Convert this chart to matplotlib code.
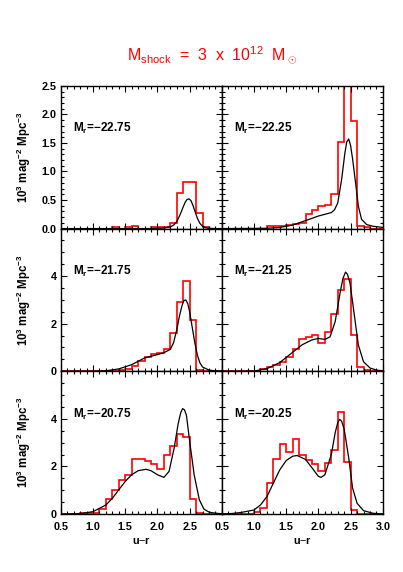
import numpy as np
import matplotlib
matplotlib.use('Agg')
import matplotlib.pyplot as plt
from matplotlib.ticker import MultipleLocator, FixedLocator

plt.rcParams['font.family'] = 'Liberation Sans'
plt.rcParams['mathtext.fontset'] = 'custom'
plt.rcParams['mathtext.rm'] = 'Liberation Sans'
plt.rcParams['mathtext.bf'] = 'Liberation Sans:bold'
plt.rcParams['mathtext.it'] = 'Liberation Sans:italic'

# u-r bins, 0.5 -> 3.0 in steps of 0.1
bin_edges = np.linspace(0.5, 3.0, 26)

mag_bins = ['-22.75', '-22.25', '-21.75', '-21.25', '-20.75', '-20.25']

# red histograms (one value per 0.1 bin)
hist_2275 = [0, 0, 0, 0, 0, 0, 0, 0, 0.03, 0, 0.03, 0.05, 0, 0, 0.02, 0.02, 0.02, 0.09, 0.62, 0.81, 0.81, 0.28, 0.03, 0, 0]
hist_2225 = [0, 0, 0, 0, 0, 0, 0, 0.04, 0.04, 0.04, 0.06, 0.08, 0.10, 0.26, 0.32, 0.39, 0.41, 0.61, 1.52, 3.0, 1.88, 0.05, 0.02, 0, 0]
hist_2175 = [0, 0, 0, 0, 0, 0, 0, 0.02, 0.03, 0.04, 0.08, 0.22, 0.42, 0.59, 0.72, 0.78, 0.92, 1.60, 2.91, 3.79, 2.16, 0.05, 0.01, 0, 0]
hist_2125 = [0, 0, 0, 0, 0, 0.03, 0.08, 0.20, 0.28, 0.40, 0.58, 0.93, 1.36, 1.44, 1.53, 1.17, 1.64, 2.40, 3.40, 3.86, 1.53, 0.18, 0.04, 0, 0]
hist_2075 = [0, 0, 0, 0.04, 0.04, 0.04, 0.21, 0.62, 1.02, 1.44, 1.65, 2.32, 2.32, 2.22, 2.10, 1.90, 2.50, 2.85, 3.38, 3.23, 0.62, 0.03, 0, 0, 0]
hist_2025 = [0, 0, 0, 0, 0, 0.10, 0.24, 1.30, 2.32, 2.95, 2.61, 3.14, 2.50, 2.25, 2.10, 1.80, 2.13, 2.67, 4.29, 2.19, 0.17, 0, 0, 0, 0]

# black model curves
fit_x_2275 = [0.5, 1.9, 2.1, 2.2, 2.25, 2.3, 2.35, 2.4, 2.43, 2.46, 2.49, 2.52, 2.55, 2.58, 2.62, 2.66, 2.7, 2.75, 2.8, 2.9, 3.0]
fit_y_2275 = [0, 0, 0.01, 0.03, 0.06, 0.12, 0.24, 0.38, 0.46, 0.51, 0.52, 0.49, 0.41, 0.31, 0.18, 0.09, 0.04, 0.015, 0.005, 0, 0]

fit_x_2225 = [0.5, 1.2, 1.4, 1.6, 1.8, 2.0, 2.1, 2.2, 2.25, 2.3, 2.36, 2.41, 2.44, 2.47, 2.5, 2.53, 2.57, 2.62, 2.67, 2.75, 2.85, 3.0]
fit_y_2225 = [0, 0.005, 0.02, 0.06, 0.14, 0.22, 0.25, 0.28, 0.33, 0.45, 0.86, 1.32, 1.52, 1.57, 1.45, 1.22, 0.86, 0.39, 0.16, 0.07, 0.04, 0.02]

fit_x_2175 = [0.5, 1.0, 1.2, 1.4, 1.6, 1.8, 2.0, 2.1, 2.2, 2.25, 2.3, 2.34, 2.38, 2.41, 2.44, 2.47, 2.5, 2.54, 2.58, 2.62, 2.66, 2.7, 2.8, 2.9, 3.0]
fit_y_2175 = [0, 0, 0.02, 0.1, 0.28, 0.56, 0.70, 0.78, 0.92, 1.2, 1.75, 2.3, 2.75, 2.97, 3.0, 2.85, 2.5, 1.85, 1.2, 0.68, 0.35, 0.18, 0.05, 0.02, 0.005]

fit_x_2125 = [0.5, 0.8, 1.0, 1.2, 1.4, 1.6, 1.75, 1.9, 2.0, 2.1, 2.18, 2.26, 2.34, 2.38, 2.42, 2.45, 2.49, 2.55, 2.62, 2.7, 2.8, 2.9, 3.0]
fit_y_2125 = [0, 0, 0.01, 0.11, 0.37, 0.80, 1.12, 1.32, 1.38, 1.34, 1.45, 2.09, 3.36, 3.9, 4.17, 4.08, 3.71, 2.51, 1.1, 0.4, 0.14, 0.05, 0.02]

fit_x_2075 = [0.5, 0.8, 1.0, 1.2, 1.3, 1.4, 1.5, 1.6, 1.7, 1.82, 1.9, 2.0, 2.1, 2.18, 2.26, 2.32, 2.36, 2.39, 2.42, 2.45, 2.5, 2.57, 2.65, 2.72, 2.8, 2.88, 3.0]
fit_y_2075 = [0, 0.01, 0.1, 0.38, 0.66, 1.02, 1.37, 1.65, 1.82, 1.88, 1.82, 1.65, 1.54, 1.79, 2.78, 3.77, 4.25, 4.43, 4.38, 4.15, 3.06, 1.65, 0.6, 0.21, 0.08, 0.04, 0.01]

fit_x_2025 = [0.5, 0.65, 0.79, 1.0, 1.1, 1.2, 1.3, 1.4, 1.5, 1.6, 1.67, 1.8, 1.9, 2.0, 2.04, 2.1, 2.2, 2.26, 2.3, 2.33, 2.36, 2.4, 2.47, 2.53, 2.6, 2.7, 2.85, 3.0]
fit_y_2025 = [0, 0.02, 0.06, 0.17, 0.38, 0.73, 1.3, 1.86, 2.25, 2.43, 2.46, 2.29, 1.94, 1.58, 1.54, 1.65, 2.5, 3.42, 3.85, 3.98, 3.9, 3.56, 2.36, 1.09, 0.45, 0.14, 0.03, 0]

hists = [hist_2275, hist_2225, hist_2175, hist_2125, hist_2075, hist_2025]
fits_x = [fit_x_2275, fit_x_2225, fit_x_2175, fit_x_2125, fit_x_2075, fit_x_2025]
fits_y = [fit_y_2275, fit_y_2225, fit_y_2175, fit_y_2125, fit_y_2075, fit_y_2025]

xticks = [0.5, 1.0, 1.5, 2.0, 2.5, 3.0]

fig = plt.figure(figsize=(4.03, 5.72), dpi=100)

lefts = [0.151, 0.5505]
bottoms = [0.6004, 0.3509, 0.1014]
w, h = 0.3995, 0.2495

for i in range(6):
    row, col = i // 2, i % 2
    ax = fig.add_axes([lefts[col], bottoms[row], w, h])

    ax.stairs(hists[i], bin_edges, color='red', lw=1.2)
    ax.plot(fits_x[i], fits_y[i], 'k-', lw=0.9)

    ax.set_xlim(0.5, 3.0)
    if row == 0:
        ax.set_ylim(0, 2.5)
        ax.yaxis.set_major_locator(MultipleLocator(0.5))
        ax.yaxis.set_minor_locator(MultipleLocator(0.1))
        ax.yaxis.set_major_formatter(matplotlib.ticker.FormatStrFormatter('%.1f'))
    else:
        ax.set_ylim(0, 6)
        ax.yaxis.set_major_locator(FixedLocator([0, 2, 4]))
        ax.yaxis.set_minor_locator(MultipleLocator(0.5))

    ax.set_xticks(xticks)
    ax.xaxis.set_minor_locator(MultipleLocator(0.1))
    if row == 2:
        labs = ['%.1f' % t for t in xticks]
        if col == 0:
            labs[-1] = ''
        ax.set_xticklabels(labs)
        ax.set_xlabel('u$-$r', fontsize=7.8, fontweight='bold')
        ax.xaxis.set_label_coords(0.5, -0.15)
    else:
        ax.set_xticklabels([])

    if col == 1:
        ax.set_yticklabels([])
    else:
        ax.set_ylabel(r'10$^\mathbf{3}$ mag$^\mathbf{-2}$ Mpc$^\mathbf{-3}$', fontsize=8.3, fontweight='bold')
        ax.yaxis.set_label_coords(-0.175, 0.5)

    ax.tick_params(which='both', direction='in', top=True, right=True, width=0.8,
                   labelsize=7.8)
    ax.tick_params(which='major', length=4)
    ax.tick_params(which='minor', length=2)
    ax.tick_params(axis='x', pad=6)
    ax.tick_params(axis='y', pad=3)
    for lab in ax.get_xticklabels() + ax.get_yticklabels():
        lab.set_fontweight('bold')
    for sp in ax.spines.values():
        sp.set_linewidth(1.0)

    ax.text(0.075, 0.7, r'M$_\mathbf{r}$=' + mag_bins[i].replace('-', '\u2212'),
            transform=ax.transAxes, fontsize=8.5, fontweight='bold', va='center')

fig.text(0.526, 0.904, r'M$_\mathrm{shock}$  =  3  x  10$^\mathrm{12}$  M$_\odot$',
         color='red', fontsize=11.5, ha='center', va='center')

plt.savefig('out.png', dpi=100)
